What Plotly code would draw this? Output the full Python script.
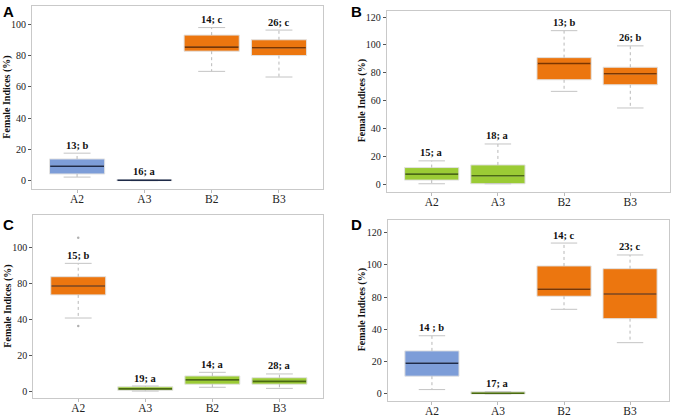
import plotly.graph_objects as go

categories = ["A2", "A3", "B2", "B3"]

# Panel A
A_q1 = [4.3, 0.0, 82.8, 80.0]
A_med = [9.2, 0.25, 85.4, 85.0]
A_q3 = [13.9, 0.6, 93.1, 90.1]
A_lo = [2.3, 0.0, 69.9, 66.3]
A_hi = [17.6, 0.6, 97.9, 96.3]
A_lab = ["13; b", "16; a", "14; c", "26; c"]
A_col = ["blue", "blue", "orange", "orange"]

# Panel B
B_q1 = [3.1, 0.5, 75.0, 71.4]
B_med = [7.4, 6.2, 86.7, 79.3]
B_q3 = [12.1, 14.0, 90.9, 84.0]
B_lo = [0.5, 0.5, 66.7, 54.8]
B_hi = [16.9, 29.0, 110.2, 99.3]
B_lab = ["15; a", "18; a", "13; b", "26; b"]
B_col = ["green", "green", "orange", "orange"]

# Panel C (broken axis 40 -> 80)
C_q1 = [67.6, 0.9, 4.3, 4.3]
C_med = [77.5, 1.7, 6.7, 5.9]
C_q3 = [83.9, 2.9, 8.9, 7.9]
C_lo = [42.0, 0.5, 2.6, 2.0]
C_hi = [91.3, 3.3, 10.9, 10.0]
C_out = [[105.5, 36.6], [], [], []]
C_lab = ["15; b", "19; a", "14; a", "28; a"]
C_col = ["orange", "green", "green", "green"]

# Panel D (broken axis 40 -> 80)
D_q1 = [11.0, 0.0, 80.6, 53.4]
D_med = [19.0, 0.4, 84.9, 82.0]
D_q3 = [26.7, 1.4, 99.4, 97.7]
D_lo = [2.7, 0.0, 65.0, 31.8]
D_hi = [36.1, 1.4, 113.6, 106.2]
D_lab = ["14 ; b", "17; a", "14; c", "23; c"]
D_col = ["blue", "green", "orange", "orange"]

C_ticks = [0, 20, 40, 80, 100]
D_ticks = [0, 20, 40, 80, 100, 120]

FILL = {"blue": "#7d9dd8", "orange": "#ec760f", "green": "#9bcb35"}
MED = {"blue": "#1e2a48", "orange": "#7a3500", "green": "#4a6a10"}
SERIF = "Times New Roman, Liberation Serif, Times, serif"
SANS = "Arial, Liberation Sans, Helvetica, sans-serif"


def ident(v):
    return v


def brk(v):
    # axis break: 40..80 compressed into 20 units
    if v <= 40:
        return v
    if v >= 80:
        return v - 20
    return 40 + (v - 40) / 2.0


BOXW = 0.82
CAPW = 0.2

fig = go.Figure()
annotations = []


def panel(idx, q1, med, q3, lo, hi, labs, cols, f, outs=None):
    xa = "x" if idx == 1 else "x%d" % idx
    ya = "y" if idx == 1 else "y%d" % idx
    for i, c in enumerate(categories):
        fig.add_trace(go.Box(
            x=[i], q1=[f(q1[i])], median=[f(med[i])], q3=[f(q3[i])],
            lowerfence=[f(q1[i])], upperfence=[f(q3[i])],
            width=BOXW, fillcolor=FILL[cols[i]],
            line=dict(color="#e2e2e2", width=1), whiskerwidth=0,
            boxpoints=False, xaxis=xa, yaxis=ya, showlegend=False,
            hoverinfo="skip"))
        # whiskers (dotted)
        fig.add_trace(go.Scatter(
            x=[i, i, None, i, i], y=[f(q3[i]), f(hi[i]), None, f(q1[i]), f(lo[i])],
            mode="lines", line=dict(color="#b8b8b8", width=1, dash="dot"),
            xaxis=xa, yaxis=ya, showlegend=False, hoverinfo="skip"))
        # caps
        fig.add_trace(go.Scatter(
            x=[i - CAPW, i + CAPW, None, i - CAPW, i + CAPW],
            y=[f(hi[i]), f(hi[i]), None, f(lo[i]), f(lo[i])],
            mode="lines", line=dict(color="#c4c4c4", width=1),
            xaxis=xa, yaxis=ya, showlegend=False, hoverinfo="skip"))
        # median
        fig.add_trace(go.Scatter(
            x=[i - BOXW / 2 + 0.01, i + BOXW / 2 - 0.01], y=[f(med[i]), f(med[i])],
            mode="lines", line=dict(color=MED[cols[i]], width=1.6),
            xaxis=xa, yaxis=ya, showlegend=False, hoverinfo="skip"))
        if outs and outs[i]:
            fig.add_trace(go.Scatter(
                x=[i] * len(outs[i]), y=[f(v) for v in outs[i]], mode="markers",
                marker=dict(color="#b0b0b0", size=2.5),
                xaxis=xa, yaxis=ya, showlegend=False, hoverinfo="skip"))
        annotations.append(dict(
            x=i, y=f(hi[i]), xref=xa, yref=ya, text="<b>%s</b>" % labs[i], showarrow=False,
            yanchor="middle", yshift=8,
            font=dict(family=SERIF, size=10.5, color="#111")))


panel(1, A_q1, A_med, A_q3, A_lo, A_hi, A_lab, A_col, ident)
panel(2, B_q1, B_med, B_q3, B_lo, B_hi, B_lab, B_col, ident)
panel(3, C_q1, C_med, C_q3, C_lo, C_hi, C_lab, C_col, brk, C_out)
panel(4, D_q1, D_med, D_q3, D_lo, D_hi, D_lab, D_col, brk)

W, H = 676, 418


def dx(a, b):
    return [a / W, b / W]


def dy(top, bot):
    return [1 - bot / H, 1 - top / H]


frame = dict(showline=True, mirror=True, linecolor="#c9c9c9", linewidth=1,
             showgrid=False, zeroline=False, ticks="outside", ticklen=3,
             tickcolor="#555", tickwidth=1)
xcommon = dict(frame, tickvals=[0, 1, 2, 3], ticktext=categories, tickcolor="#bbbbbb",
               tickfont=dict(family=SERIF, size=11.5, color="#222"),
               ticklabelstandoff=-4)
ycommon = dict(frame, tickfont=dict(family=SERIF, size=10, color="#222"))

layout = dict(
    width=W, height=H, margin=dict(l=0, r=0, t=0, b=0),
    paper_bgcolor="white", plot_bgcolor="white", showlegend=False,
    xaxis=dict(xcommon, domain=dx(32, 322.7), range=[-0.67, 3.65], anchor="y"),
    yaxis=dict(ycommon, domain=dy(6, 189.3), range=[-5.5, 111.7], anchor="x",
               tickvals=[0, 20, 40, 60, 80, 100]),
    xaxis2=dict(xcommon, domain=dx(386.7, 670), range=[-0.68, 3.6], anchor="y2"),
    yaxis2=dict(ycommon, domain=dy(11, 191.7), range=[-5.2, 124.3], anchor="x2",
                tickvals=[0, 20, 40, 60, 80, 100, 120]),
    xaxis3=dict(xcommon, domain=dx(33.3, 323), range=[-0.67, 3.65], anchor="y3"),
    yaxis3=dict(ycommon, domain=dy(215, 398.3), range=[-3.5, 98.1], anchor="x3",
                tickvals=[brk(v) for v in C_ticks], ticktext=[str(v) for v in C_ticks]),
    xaxis4=dict(xcommon, domain=dx(387.7, 669), range=[-0.67, 3.59], anchor="y4"),
    yaxis4=dict(ycommon, domain=dy(220, 400.7), range=[-4.2, 107.9], anchor="x4",
                tickvals=[brk(v) for v in D_ticks], ticktext=[str(v) for v in D_ticks]),
)

# Panel letters
for letter, px, py in [("A", 1, 1), ("B", 349, 1), ("C", 1, 214), ("D", 349, 214)]:
    annotations.append(dict(x=px / W, y=1 - py / H, xref="paper", yref="paper",
                            xanchor="left", yanchor="top", text="<b>%s</b>" % letter,
                            showarrow=False,
                            font=dict(family=SANS, size=15, color="#000")))

# Y titles
for px, top, bot in [(7, 6, 189.3), (362, 11, 191.7), (8, 215, 398.3), (362, 220, 400.7)]:
    annotations.append(dict(x=px / W, y=1 - (top + bot) / 2 / H, xref="paper", yref="paper",
                            xanchor="center", yanchor="middle",
                            text="<b>Female Indices (%)</b>",
                            textangle=-90, showarrow=False,
                            font=dict(family=SERIF, size=10, color="#111")))

layout["annotations"] = annotations
fig.update_layout(**layout)
fig.write_html("out.html", config={"displayModeBar": False},
               post_script="document.body.style.margin='0';document.body.style.overflow='hidden';")
